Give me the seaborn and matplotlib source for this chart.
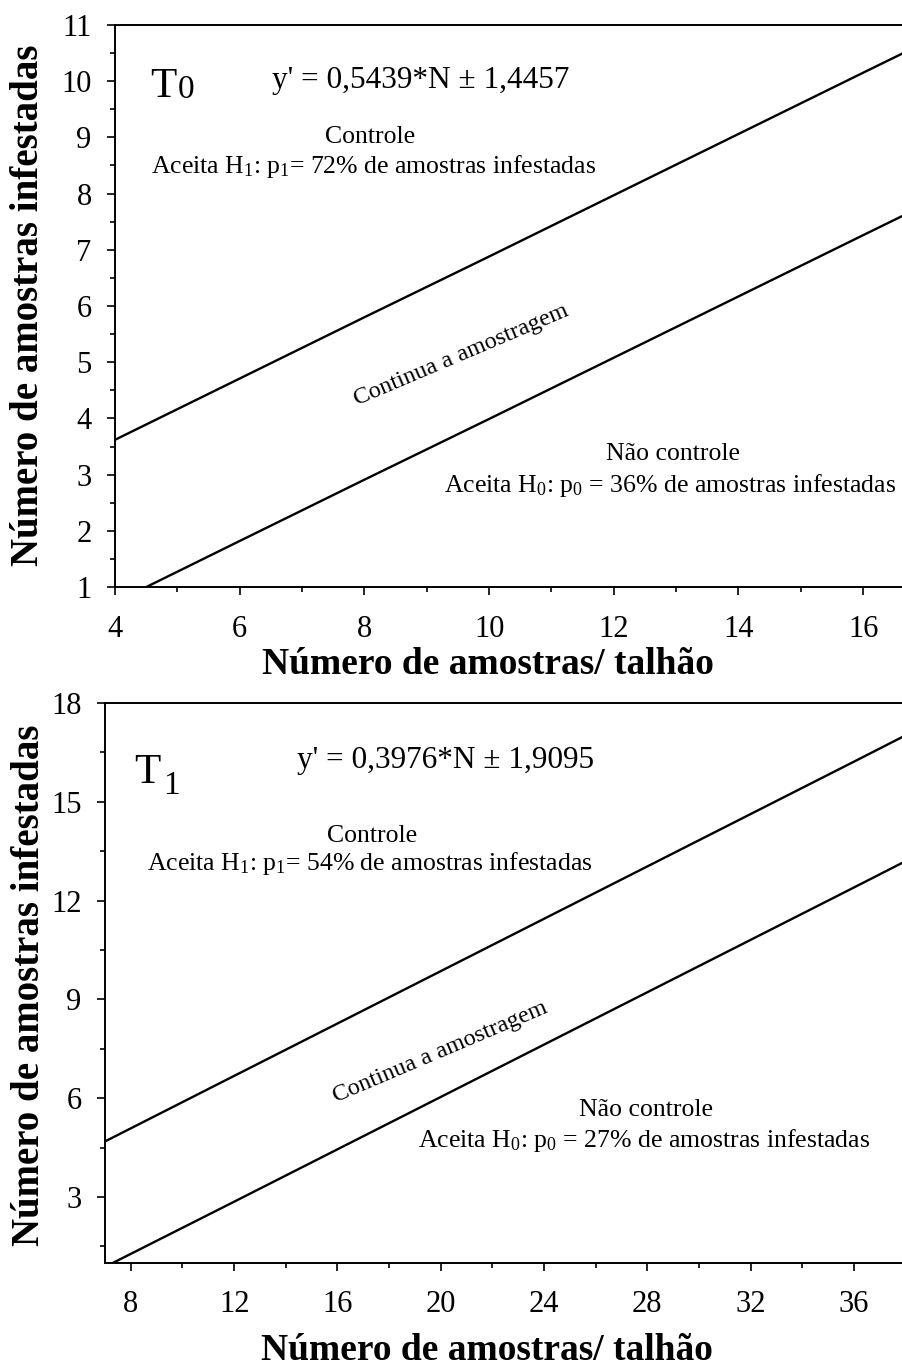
import numpy as np
import pandas as pd
import matplotlib
matplotlib.use('Agg')
import matplotlib.pyplot as plt
from matplotlib.ticker import MultipleLocator
import seaborn as sns

# limites de decisao
# T0
n_t0_sup = [4, 6, 8, 10, 12, 14, 16, 16.7]
y_t0_sup = [3.62, 4.71, 5.80, 6.88, 7.97, 9.06, 10.15, 10.53]
n_t0_inf = [4.5, 6, 8, 10, 12, 14, 16, 16.7]
y_t0_inf = [1.0, 1.82, 2.91, 3.99, 5.08, 6.17, 7.26, 7.64]

# T1
n_t1_sup = [7, 12, 16, 20, 24, 28, 32, 36, 38]
y_t1_sup = [4.69, 6.68, 8.27, 9.86, 11.45, 13.04, 14.63, 16.22, 17.02]
n_t1_inf = [7.3, 12, 16, 20, 24, 28, 32, 36, 38]
y_t1_inf = [1.0, 2.86, 4.45, 6.04, 7.63, 9.22, 10.81, 12.40, 13.2]

eq_t0 = "y' = 0,5439*N \u00b1 1,4457"
eq_t1 = "y' = 0,3976*N \u00b1 1,9095"
h1_t0 = 'Aceita H$_1$: p$_1$= 72% de amostras infestadas'
h1_t1 = 'Aceita H$_1$: p$_1$= 54% de amostras infestadas'
h0_t0 = 'Aceita H$_0$: p$_0$ = 36% de amostras infestadas'
h0_t1 = 'Aceita H$_0$: p$_0$ = 27% de amostras infestadas'

xlab = 'Número de amostras/ talhão'
ylab = 'Número de amostras infestadas'

sns.set_style('ticks')
plt.rcParams['font.family'] = 'Liberation Serif'
plt.rcParams['mathtext.fontset'] = 'custom'
plt.rcParams['mathtext.rm'] = 'Liberation Serif'
plt.rcParams['mathtext.it'] = 'Liberation Serif:italic'
plt.rcParams['mathtext.bf'] = 'Liberation Serif:bold'
plt.rcParams['text.color'] = 'black'
plt.rcParams['axes.labelcolor'] = 'black'

fig = plt.figure(figsize=(9.03, 13.71), dpi=100)
ax1 = fig.add_axes([0.1274, 0.5718, 0.8726, 0.41])
ax2 = fig.add_axes([0.1163, 0.0788, 0.8837, 0.4084])


def style_axis(ax, xmaj, xmin, ymaj, ymin):
    ax.xaxis.set_major_locator(MultipleLocator(xmaj))
    ax.xaxis.set_minor_locator(MultipleLocator(xmin))
    ax.yaxis.set_major_locator(MultipleLocator(ymaj))
    ax.yaxis.set_minor_locator(MultipleLocator(ymin))
    ax.tick_params(which='both', direction='out', top=False, right=False,
                   width=1.2, colors='black', labelcolor='black')
    ax.tick_params(which='major', length=5.8, labelsize=22)
    ax.tick_params(which='minor', length=3.6)
    ax.tick_params(axis='x', which='major', pad=14)
    ax.tick_params(axis='y', which='major', pad=11)
    ax.spines['right'].set_visible(False)
    for s in ['left', 'bottom', 'top']:
        ax.spines[s].set_linewidth(1.4)
        ax.spines[s].set_color('black')


# ---- painel T0
sns.lineplot(x=n_t0_sup, y=y_t0_sup, color='black', lw=1.7, ax=ax1)
sns.lineplot(x=n_t0_inf, y=y_t0_inf, color='black', lw=1.7, ax=ax1)
ax1.set_xlim(4, 16.64)
ax1.set_ylim(1, 11)
style_axis(ax1, 2, 1, 1, 0.5)
ax1.set_xlabel(xlab, fontsize=27, fontweight='bold', va='center')
ax1.set_ylabel(ylab, fontsize=28, fontweight='bold', va='center')
ax1.xaxis.set_label_coords(0.473, -0.137)
ax1.yaxis.set_label_coords(-0.110, 0.502)

tr = ax1.transAxes
ax1.text(0.045, 0.872, 'T', fontsize=31, transform=tr, va='baseline')
ax1.text(0.080, 0.870, '0', fontsize=24, transform=tr, va='baseline')
ax1.text(0.199, 0.888, eq_t0, fontsize=22.5, transform=tr, va='baseline')
ax1.text(0.324, 0.790, 'Controle', fontsize=18.5, transform=tr,
         ha='center', va='baseline')
ax1.text(0.328, 0.737, h1_t0, fontsize=18.5, transform=tr,
         ha='center', va='baseline')
ax1.text(0.439, 0.413, 'Continua a amostragem', fontsize=17.5, transform=tr,
         ha='center', va='center', rotation=23)
ax1.text(0.708, 0.226, 'Não controle', fontsize=18.5, transform=tr,
         ha='center', va='baseline')
ax1.text(0.418, 0.169, h0_t0, fontsize=18.5, transform=tr,
         ha='left', va='baseline')

# ---- painel T1
sns.lineplot(x=n_t1_sup, y=y_t1_sup, color='black', lw=1.7, ax=ax2)
sns.lineplot(x=n_t1_inf, y=y_t1_inf, color='black', lw=1.7, ax=ax2)
ax2.set_xlim(7, 37.9)
ax2.set_ylim(1, 18)
style_axis(ax2, 4, 2, 3, 1.5)
ax2.set_xlabel(xlab, fontsize=27, fontweight='bold', va='center')
ax2.set_ylabel(ylab, fontsize=28, fontweight='bold', va='center')
ax2.xaxis.set_label_coords(0.478, -0.157)
ax2.yaxis.set_label_coords(-0.095, 0.496)

tr = ax2.transAxes
ax2.text(0.036, 0.857, 'T', fontsize=31, transform=tr, va='baseline')
ax2.text(0.073, 0.8375, '1', fontsize=24, transform=tr, va='baseline')
ax2.text(0.2406, 0.884, eq_t1, fontsize=22.5, transform=tr, va='baseline')
ax2.text(0.3346, 0.752, 'Controle', fontsize=18.5, transform=tr,
         ha='center', va='baseline')
ax2.text(0.0526, 0.702, h1_t1, fontsize=18.5, transform=tr,
         ha='left', va='baseline')
ax2.text(0.42, 0.377, 'Continua a amostragem', fontsize=17.5, transform=tr,
         ha='center', va='center', rotation=23)
ax2.text(0.678, 0.2625, 'Não controle', fontsize=18.5, transform=tr,
         ha='center', va='baseline')
ax2.text(0.392, 0.207, h0_t1, fontsize=18.5, transform=tr,
         ha='left', va='baseline')

fig.savefig('out.png', dpi=100)
